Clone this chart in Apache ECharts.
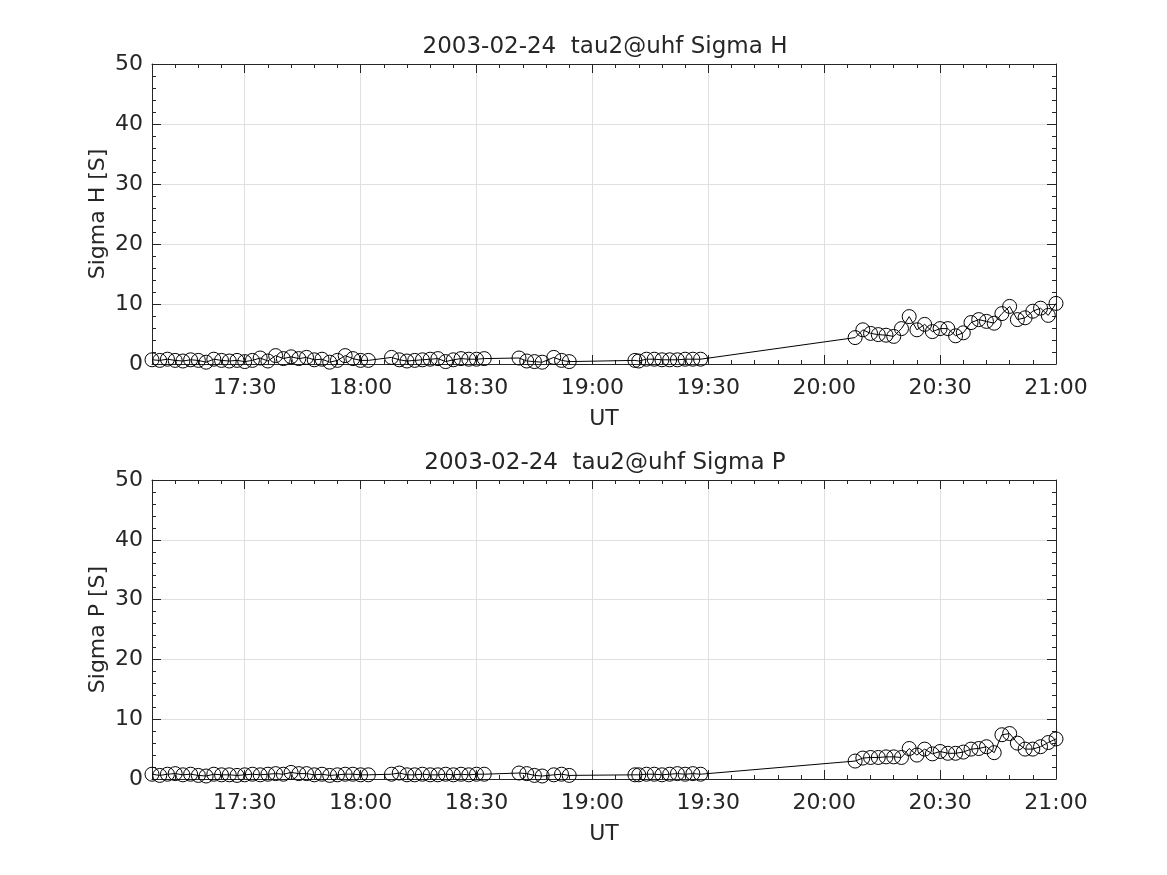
<!DOCTYPE html>
<html><head><meta charset="utf-8">
<script src="https://cdn.jsdelivr.net/npm/echarts@6/dist/echarts.min.js"></script>
<style>html,body{margin:0;padding:0;background:#fff}#c{width:1167px;height:875px}</style>
</head><body><div id="c"></div>
<script>
const times = [
  '17:06','17:08','17:10','17:12','17:14','17:16','17:18','17:20','17:22','17:24','17:26','17:28','17:30','17:32','17:34','17:36','17:38','17:40','17:42','17:44','17:46','17:48','17:50','17:52','17:54','17:56','17:58','18:00','18:02',
  '18:08','18:10','18:12','18:14','18:16','18:18','18:20','18:22','18:24','18:26','18:28','18:30','18:32',
  '18:41','18:43','18:45','18:47','18:50','18:52','18:54',
  '19:11','19:12','19:14','19:16','19:18','19:20','19:22','19:24','19:26','19:28',
  '20:08','20:10','20:12','20:14','20:16','20:18','20:20','20:22','20:24','20:26','20:28','20:30','20:32','20:34','20:36','20:38','20:40','20:42','20:44','20:46','20:48','20:50','20:52','20:54','20:56','20:58','21:00'
];
const sigmaH = [
  0.7,0.6,0.8,0.6,0.5,0.7,0.6,0.3,0.8,0.6,0.5,0.6,0.4,0.6,1.0,0.5,1.4,0.9,1.2,0.9,1.1,0.7,0.8,0.3,0.6,1.4,0.9,0.6,0.6,
  1.1,0.7,0.5,0.6,0.7,0.8,0.9,0.4,0.7,0.9,0.8,0.8,0.9,
  1.0,0.5,0.4,0.3,1.1,0.6,0.4,
  0.6,0.5,0.8,0.8,0.7,0.7,0.7,0.8,0.8,0.8,
  4.4,5.7,5.1,4.9,4.8,4.6,5.9,7.9,5.7,6.6,5.4,5.9,5.9,4.7,5.2,6.9,7.4,7.1,6.8,8.4,9.6,7.4,7.7,8.8,9.3,8.1,10.1
];
const sigmaP = [
  0.8,0.6,0.8,0.9,0.7,0.8,0.6,0.5,0.8,0.7,0.7,0.6,0.7,0.8,0.7,0.8,0.9,0.8,1.1,0.9,0.9,0.7,0.8,0.6,0.7,0.8,0.8,0.7,0.7,
  0.8,1.0,0.7,0.7,0.8,0.7,0.7,0.8,0.7,0.8,0.7,0.8,0.8,
  1.0,0.9,0.6,0.5,0.7,0.8,0.6,
  0.7,0.7,0.8,0.8,0.7,0.8,0.9,0.8,0.9,0.8,
  3.0,3.5,3.6,3.6,3.7,3.7,3.6,5.1,4.0,5.0,4.2,4.6,4.3,4.3,4.5,5.0,5.1,5.4,4.4,7.4,7.6,6.0,5.0,5.0,5.4,6.1,6.7
];
const xTickLabels = ['17:30','18:00','18:30','19:00','19:30','20:00','20:30','21:00'];
const xStart = '17:06', xEnd = '21:00';
const titles = ['2003-02-24  tau2@uhf Sigma H', '2003-02-24  tau2@uhf Sigma P'];
const yNames = ['Sigma H [S]', 'Sigma P [S]'];
const seriesValues = [sigmaH, sigmaP];

const toMin = s => { const p = s.split(':'); return (+p[0]) * 60 + (+p[1]); };
const fmt = v => { const h = Math.floor(v / 60), m = Math.round(v - h * 60); return h + ':' + (m < 10 ? '0' : '') + m; };
const xMin = toMin(xStart), xMax = toMin(xEnd);
const majors = xTickLabels.map(toMin);

const FONT = 'DejaVu Sans';
const TXT = '#262626';
const GRIDC = '#e0e0e0';
const FS = 22;
const grids = [
  {left: 152, top: 64, width: 904, height: 300},
  {left: 152, top: 480, width: 904, height: 299}
];
const xAxes = [], yAxes = [], series = [], titleArr = [];
grids.forEach((g, i) => {
  titleArr.push({text: titles[i], left: 600, top: g.top - 33, textAlign: 'center',
    textStyle: {fontFamily: FONT, fontSize: 23, fontWeight: 'normal', color: TXT}});
  const base = {gridIndex: i, type: 'value', min: xMin, max: xMax, silent: true};
  xAxes.push(Object.assign({}, base, {
    position: 'bottom', name: 'UT', nameLocation: 'middle', nameGap: 44,
    nameTextStyle: {fontFamily: FONT, fontSize: FS, color: TXT},
    axisLine: {show: true, onZero: false, lineStyle: {color: TXT, width: 1}},
    axisTick: {show: true, inside: true, length: 9, customValues: majors, lineStyle: {color: TXT}},
    axisLabel: {show: true, customValues: majors, formatter: v => fmt(v), margin: 13,
      fontFamily: FONT, fontSize: FS, color: TXT, showMinLabel: true, showMaxLabel: true},
    splitLine: {show: true, lineStyle: {color: GRIDC, width: 1}}
  }));
  xAxes.push(Object.assign({}, base, {
    position: 'bottom', interval: 6,
    axisLine: {show: false, onZero: false},
    axisTick: {show: true, inside: true, length: 4, lineStyle: {color: TXT}},
    axisLabel: {show: false}, splitLine: {show: false}
  }));
  xAxes.push(Object.assign({}, base, {
    position: 'top',
    axisLine: {show: true, onZero: false, lineStyle: {color: TXT, width: 1}},
    axisTick: {show: true, inside: true, length: 9, customValues: majors, lineStyle: {color: TXT}},
    axisLabel: {show: false}, splitLine: {show: false}
  }));
  xAxes.push(Object.assign({}, base, {
    position: 'top', interval: 6,
    axisLine: {show: false, onZero: false},
    axisTick: {show: true, inside: true, length: 4, lineStyle: {color: TXT}},
    axisLabel: {show: false}, splitLine: {show: false}
  }));
  const ybase = {gridIndex: i, type: 'value', min: 0, max: 50, interval: 10, silent: true};
  yAxes.push(Object.assign({}, ybase, {
    position: 'left', name: yNames[i], nameLocation: 'middle', nameGap: 43, nameMoveOverlap: false,
    nameTextStyle: {fontFamily: FONT, fontSize: FS, color: TXT},
    axisLine: {show: true, onZero: false, lineStyle: {color: TXT, width: 1}},
    axisTick: {show: true, inside: true, length: 9, lineStyle: {color: TXT}},
    minorTick: {show: true, splitNumber: 5, length: 4, lineStyle: {color: TXT}},
    axisLabel: {show: true, margin: 9, fontFamily: FONT, fontSize: FS, color: TXT},
    splitLine: {show: true, lineStyle: {color: GRIDC, width: 1}}
  }));
  yAxes.push(Object.assign({}, ybase, {
    position: 'right',
    axisLine: {show: true, onZero: false, lineStyle: {color: TXT, width: 1}},
    axisTick: {show: true, inside: true, length: 9, lineStyle: {color: TXT}},
    minorTick: {show: true, splitNumber: 5, length: 4, lineStyle: {color: TXT}},
    axisLabel: {show: false}, splitLine: {show: false}
  }));
  series.push({
    type: 'line', xAxisIndex: i * 4, yAxisIndex: i * 2, clip: false,
    data: times.map((t, k) => [toMin(t), seriesValues[i][k]]),
    symbol: 'circle', symbolSize: 14, showAllSymbol: true,
    itemStyle: {color: 'rgba(0,0,0,0)', borderColor: '#000', borderWidth: 1},
    lineStyle: {color: '#000', width: 1},
    emphasis: {disabled: true}, animation: false, z: 5
  });
});

const chart = echarts.init(document.getElementById('c'), null, {renderer: 'canvas'});
chart.setOption({
  backgroundColor: '#fff', animation: false,
  title: titleArr, grid: grids, xAxis: xAxes, yAxis: yAxes, series: series
});
</script></body></html>
